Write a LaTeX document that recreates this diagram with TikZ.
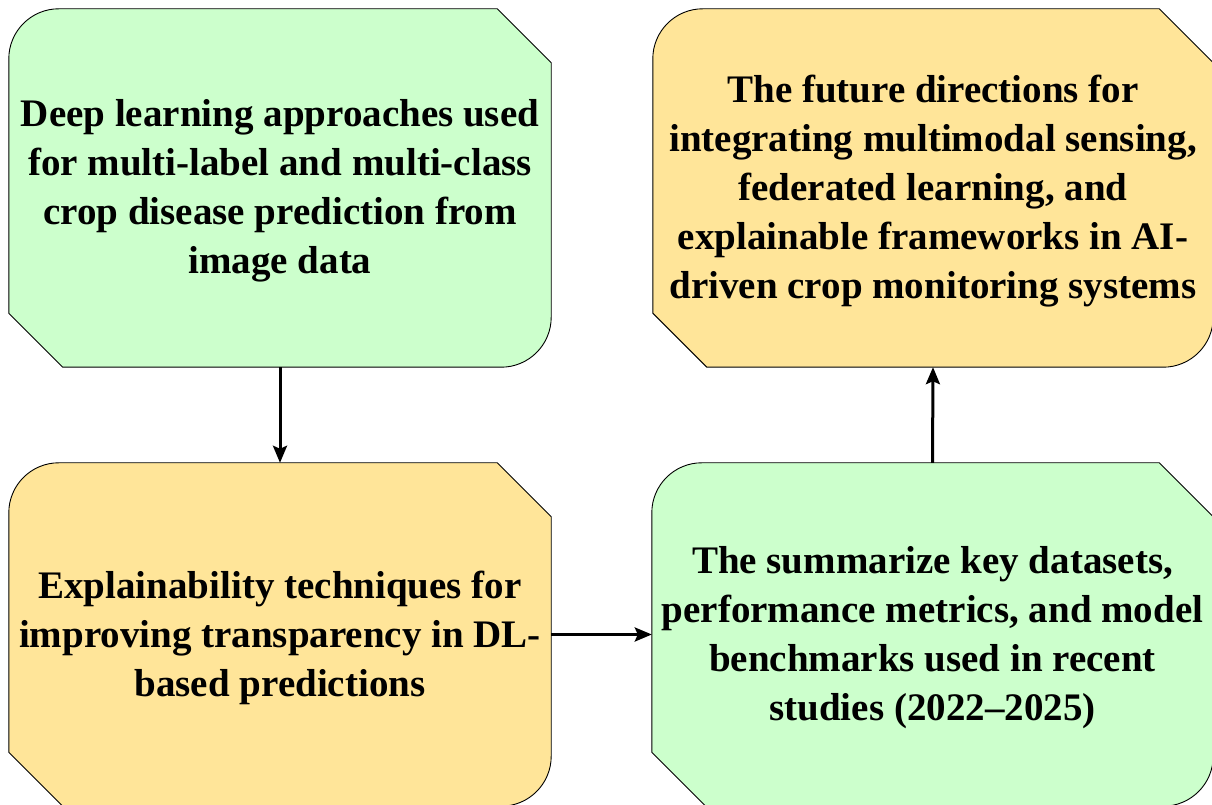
\documentclass[tikz,border=0pt]{standalone}
\usepackage{fontspec}
\setmainfont{Liberation Serif}
\usetikzlibrary{arrows.meta}
\definecolor{mintfill}{HTML}{CCFFCC}
\definecolor{sandfill}{HTML}{FFE599}
\tikzset{
  boxtext/.style={align=center, font=\bfseries\fontsize{39}{49}\selectfont,
    inner sep=0pt, draw=none},
  boxline/.style={draw=black, line width=0.9pt},
  flow/.style={line width=3pt, -{Stealth[length=17pt,width=14pt,inset=3pt]}}
}
% Box with rounded top-left / bottom-right corners and cut top-right / bottom-left corners
\newcommand{\cornerbox}[2]{%
  \filldraw[boxline, fill=#2] ([xshift=-54pt]#1.north east) -- ([xshift=50pt]#1.north west)
    arc[start angle=90,end angle=180,radius=50pt]
    -- ([yshift=54pt]#1.south west) -- ([xshift=54pt]#1.south west)
    -- ([xshift=-50pt]#1.south east)
    arc[start angle=270,end angle=360,radius=50pt]
    -- ([yshift=-54pt]#1.north east) -- cycle;}
\begin{document}
\begin{tikzpicture}[x=1pt,y=1pt]
\useasboundingbox (0,0) rectangle (1212,805);
% node frames
\path (280,617) node[minimum width=542pt,minimum height=358pt,inner sep=0pt] (b1) {};
\path (280,170.5) node[minimum width=542pt,minimum height=343pt,inner sep=0pt] (b3) {};
\path (933,617) node[minimum width=560pt,minimum height=358pt,inner sep=0pt] (b4) {};
\path (932.5,170.5) node[minimum width=561pt,minimum height=343pt,inner sep=0pt] (b2) {};
\cornerbox{b1}{mintfill}
\cornerbox{b3}{sandfill}
\cornerbox{b4}{sandfill}
\cornerbox{b2}{mintfill}
% texts
\node[boxtext] (t1) at ([yshift=-3pt]b1.center) {Deep learning approaches used\\for multi-label and multi-class\\crop disease prediction from\\image data};
\node[boxtext] (t3) at ([yshift=-3pt]b3.center) {Explainability techniques for\\improving transparency in DL-\\based predictions};
\node[boxtext] (t2) at ([yshift=-3pt]b2.center) {The summarize key datasets,\\performance metrics, and model\\benchmarks used in recent\\studies (2022--2025)};
\node[boxtext] (t4) at ([yshift=-3pt]b4.center) {The future directions for\\integrating multimodal sensing,\\federated learning, and\\explainable frameworks in AI-\\driven crop monitoring systems};
% connectors
\draw[flow] (b1.south) -- (b3.north);
\draw[flow] (b3.east) -- (b2.west);
\draw[flow] (b2.north) -- (b4.south);
\end{tikzpicture}
\end{document}
